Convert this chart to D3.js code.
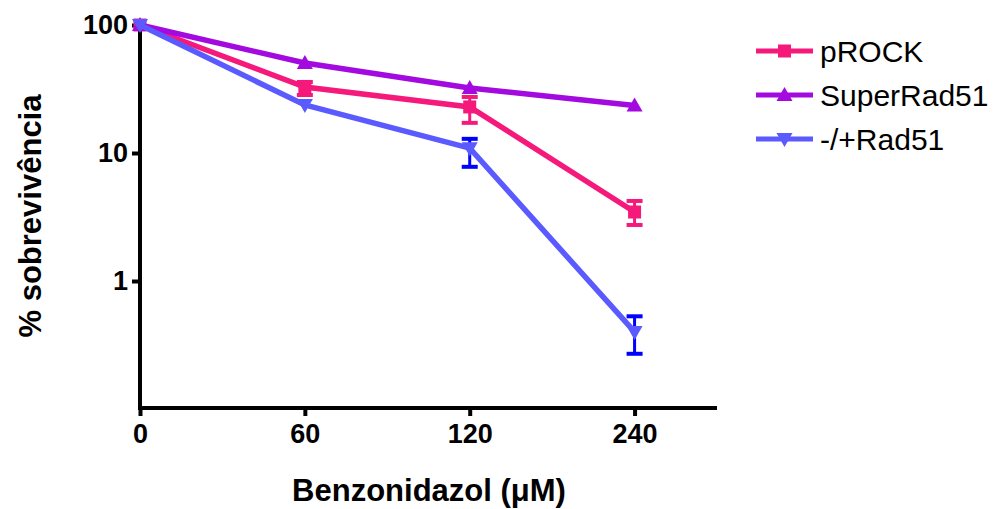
<!DOCTYPE html>
<html lang="en">
<head>
    <meta charset="UTF-8">
    <script src="https://cdn.jsdelivr.net/npm/d3@7"></script>
    <title>Sobrevivência</title>
    <style>
        body { margin: 0; background: #fff; }
        text { font-family: "Liberation Sans", Arial, sans-serif; }
    </style>
</head>
<body>
<script>
    // dados
    let doses = ["0", "60", "120", "240"];
    let seriesNames = ["pROCK", "SuperRad51", "-/+Rad51"];
    let pROCK = [100, 32.8, 22.9, 3.46];
    let pROCKLow = [null, 28.4, 17.2, 2.74];
    let pROCKHigh = [null, 35.9, 27.4, 4.22];
    let superRad = [100, 50.5, 32.2, 23.5];
    let rad51 = [100, 23.7, 10.9, 0.40];
    let rad51Low = [null, null, 7.8, 0.27];
    let rad51High = [null, null, 12.9, 0.53];
    let yTicks = [1, 10, 100];

    let width = 1000, height = 509;

    let svg = d3.select("body").append("svg")
        .attr("width", width)
        .attr("height", height);

    // escalas
    let x = d3.scaleLinear().domain([0, 3.5]).range([140, 717]);
    let y = d3.scaleLog().domain([0.1, 100]).range([409, 25]);

    let series = [
        {name: seriesNames[0], values: pROCK, low: pROCKLow, high: pROCKHigh, color: "#f5197c", errColor: "#f5197c", shape: "square"},
        {name: seriesNames[1], values: superRad, low: [], high: [], color: "#a30ae0", errColor: "#a30ae0", shape: "up"},
        {name: seriesNames[2], values: rad51, low: rad51Low, high: rad51High, color: "#5a5aff", errColor: "#0000ff", shape: "down"}
    ];

    function marker(g, shape, cx, cy, color) {
        if (shape === "square") {
            g.append("rect").attr("x", cx - 6.5).attr("y", cy - 6.5)
                .attr("width", 13).attr("height", 13).attr("fill", color);
        } else if (shape === "up") {
            g.append("path").attr("d", `M${cx},${cy - 8}L${cx + 8},${cy + 6}L${cx - 8},${cy + 6}Z`).attr("fill", color);
        } else {
            g.append("path").attr("d", `M${cx},${cy + 8}L${cx + 8},${cy - 6}L${cx - 8},${cy - 6}Z`).attr("fill", color);
        }
    }

    // eixo y
    let yAxis = d3.axisLeft(y).tickValues(yTicks).tickSize(8).tickPadding(4)
        .tickFormat(d3.format("d"));
    let gy = svg.append("g").attr("transform", "translate(140,0)").call(yAxis);
    gy.select(".domain").attr("d", "M0,22V410").attr("stroke", "#000").attr("stroke-width", 4);
    gy.selectAll(".tick line").attr("stroke", "#000").attr("stroke-width", 4);
    gy.selectAll(".tick text").attr("font-size", 27).attr("font-weight", "bold")
        .attr("font-family", "Liberation Sans, Arial, sans-serif").attr("fill", "#000");

    // eixo x
    let xAxis = d3.axisBottom(x).tickValues(d3.range(doses.length)).tickSize(8).tickPadding(8)
        .tickFormat(i => doses[i]);
    let gx = svg.append("g").attr("transform", "translate(0,408)").call(xAxis);
    gx.select(".domain").attr("d", "M138,0H717").attr("stroke", "#000").attr("stroke-width", 4);
    gx.selectAll(".tick line").attr("stroke", "#000").attr("stroke-width", 4);
    gx.selectAll(".tick text").attr("font-size", 27).attr("font-weight", "bold")
        .attr("font-family", "Liberation Sans, Arial, sans-serif").attr("fill", "#000");

    // títulos
    svg.append("text").attr("x", 429).attr("y", 501).attr("text-anchor", "middle")
        .attr("font-size", 31).attr("font-weight", "bold").text("Benzonidazol (μM)");
    svg.append("text").attr("transform", "translate(41,216) rotate(-90)").attr("text-anchor", "middle")
        .attr("font-size", 31).attr("font-weight", "bold").text("% sobrevivência");

    let line = d3.line().x((d, i) => x(i)).y(d => y(d));

    series.forEach(s => {
        let g = svg.append("g");
        g.append("path").datum(s.values).attr("d", line)
            .attr("fill", "none").attr("stroke", s.color).attr("stroke-width", 5.5);
        // barras de erro
        s.values.forEach((v, i) => {
            if (s.low[i] == null) return;
            let cx = x(i), y1 = y(s.low[i]), y2 = y(s.high[i]);
            g.append("line").attr("x1", cx).attr("x2", cx).attr("y1", y1).attr("y2", y2)
                .attr("stroke", s.errColor).attr("stroke-width", 3);
            [y1, y2].forEach(yy => g.append("line").attr("x1", cx - 8).attr("x2", cx + 8)
                .attr("y1", yy).attr("y2", yy).attr("stroke", s.errColor).attr("stroke-width", 4));
        });
        s.values.forEach((v, i) => marker(g, s.shape, x(i), y(v), s.color));
    });

    // legenda
    let legend = svg.append("g");
    series.forEach((s, i) => {
        let ly = 51 + i * 44;
        legend.append("line").attr("x1", 756).attr("x2", 813).attr("y1", ly).attr("y2", ly)
            .attr("stroke", s.color).attr("stroke-width", 5);
        marker(legend, s.shape, 784.5, ly, s.color);
        legend.append("text").attr("x", 820).attr("y", ly + 11).attr("font-size", 30)
            .attr("fill", "#000").text(s.name);
    });
</script>
</body>
</html>
